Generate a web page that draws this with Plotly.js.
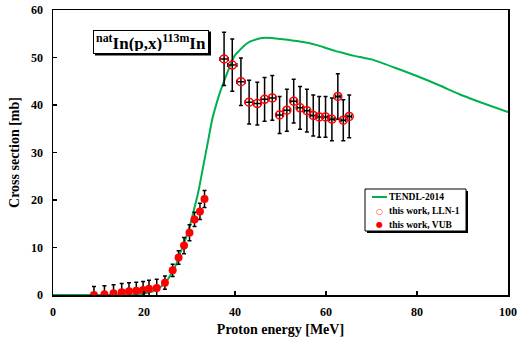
<!DOCTYPE html>
<html>
<head>
<meta charset="utf-8">
<script src="https://cdn.plot.ly/plotly-3.0.1.min.js"></script>
<style>html,body{margin:0;padding:0;background:#fff;}#chart{width:519px;height:345px;}</style>
</head>
<body>
<div id="chart"></div>
<script>
// TENDL-2014 model curve
const tendlE = [0, 10, 15, 18, 20, 22, 23, 24, 25, 26, 27, 28, 29, 30, 31, 32, 33, 34, 35, 36, 37, 38, 39, 40, 41, 42, 43, 44, 45, 46, 48, 50, 52, 54, 56, 58, 60, 62, 64, 66, 68, 70, 75, 80, 85, 90, 95, 100];
const tendlXS = [0, 0, 0.05, 0.15, 0.3, 0.8, 1.3, 2.0, 3.0, 4.5, 6.3, 8.9, 11.4, 14.3, 18.0, 22.0, 27.0, 32.0, 37.0, 40.5, 43.5, 46.0, 48.5, 50.5, 51.5, 52.5, 53.2, 53.6, 53.9, 54.1, 54.1, 53.9, 53.7, 53.4, 53.1, 52.6, 52.0, 51.4, 50.9, 50.4, 50.0, 49.6, 47.9, 46.1, 44.1, 42.0, 40.2, 38.5];

// this work, LLN-1
const llnE = [37.6, 39.4, 41.3, 43.1, 44.9, 46.5, 48.2, 49.8, 51.4, 52.9, 54.3, 55.8, 57.2, 58.5, 59.9, 61.3, 62.6, 63.8, 65.1];
const llnXS = [49.7, 48.4, 44.9, 40.6, 40.3, 41.2, 41.5, 37.9, 38.9, 40.8, 39.4, 38.8, 37.8, 37.5, 37.5, 37.0, 41.8, 36.8, 37.6];
const llnErr = [5.6, 5.5, 5.0, 4.6, 4.5, 4.6, 4.7, 3.9, 4.4, 4.6, 4.5, 4.5, 4.3, 4.3, 4.3, 4.5, 4.8, 4.3, 4.5];
const llnEErr = [0.9, 1.0, 0.9, 0.85, 0.8, 0.8, 0.75, 0.7, 0.7, 0.65, 0.65, 0.6, 0.6, 0.55, 0.55, 0.5, 0.5, 0.5, 0.5];

// this work, VUB
const vubE = [9.0, 11.3, 13.3, 15.1, 16.7, 18.3, 19.8, 21.1, 22.8, 24.6, 26.3, 27.6, 28.8, 30.0, 31.1, 32.3, 33.3];
const vubXS = [0.0, 0.15, 0.35, 0.6, 0.8, 0.9, 1.05, 1.3, 1.5, 2.6, 5.2, 7.9, 10.4, 13.1, 15.9, 17.6, 20.2];
const vubErr = [1.8, 1.8, 1.8, 1.8, 1.8, 1.8, 1.8, 1.8, 1.8, 1.4, 1.3, 1.4, 1.7, 1.7, 1.5, 1.7, 1.8];

const legendNames = ["TENDL-2014", "this work, LLN-1", "this work, VUB"];
const xTicks = [0, 20, 40, 60, 80, 100];
const yTicks = [0, 10, 20, 30, 40, 50, 60];

const GREEN = "#00B050";
const RED = "#FF0000";
const FONT = "Liberation Serif";

const traces = [
  {x: tendlE, y: tendlXS, type: "scatter", mode: "lines", name: legendNames[0],
   line: {color: GREEN, width: 2, shape: "spline", smoothing: 0.6}, hoverinfo: "skip"},
  {x: llnE, y: llnXS, type: "scatter", mode: "markers", name: legendNames[1],
   marker: {symbol: "circle-open", size: 8, color: RED, line: {width: 1.5, color: RED}},
   error_y: {type: "data", array: llnErr, visible: true, color: "#000", thickness: 1.5, width: 2},
   error_x: {type: "data", array: llnEErr, visible: true, color: "#000", thickness: 1.5, width: 2}},
  {x: vubE, y: vubXS, type: "scatter", mode: "markers", name: legendNames[2],
   marker: {symbol: "circle", size: 8, color: RED},
   error_y: {type: "data", array: vubErr, visible: true, color: "#000", thickness: 1.5, width: 2}}
];

// plot area geometry (px) for manual legend / title box placement
const L = 53, T = 10, W = 455, H = 285;
const px = v => (v - L) / W;
const py = v => (T + H - v) / H;

const titleText = "<b><sup>nat</sup>In(p,x)<sup>113m</sup>In</b>";
const bold = s => "<b>" + s + "</b>";

const shapes = [
  // title box shadow
  {type: "rect", xref: "paper", yref: "paper", x0: px(95), x1: px(211), y0: py(55.5), y1: py(31.5),
   fillcolor: "#000", line: {width: 0}, layer: "above"},
  // legend shadow and box
  {type: "rect", xref: "paper", yref: "paper", x0: px(367), x1: px(468), y0: py(233), y1: py(191),
   fillcolor: "#000", line: {width: 0}, layer: "above"},
  {type: "rect", xref: "paper", yref: "paper", x0: px(365), x1: px(466), y0: py(231), y1: py(189),
   fillcolor: "#fff", line: {width: 1, color: "#000"}, layer: "above"},
  // legend line sample
  {type: "line", xref: "paper", yref: "paper", x0: px(372), x1: px(387), y0: py(197), y1: py(197),
   line: {color: GREEN, width: 2}, layer: "above"}
];

const annotations = [
  // title box (fixed size so its shadow shape lines up)
  {xref: "paper", yref: "paper", x: px(150.5), y: py(41.5), xanchor: "center", yanchor: "middle",
   width: 110, height: 18, align: "center", valign: "middle",
   text: titleText, showarrow: false, bgcolor: "#fff", bordercolor: "#000", borderwidth: 1, borderpad: 2,
   font: {family: FONT, size: 17, color: "#000"}},
  // legend texts
  {xref: "paper", yref: "paper", x: px(387), y: py(197), xanchor: "left", yanchor: "middle",
   text: bold(legendNames[0]), showarrow: false, font: {family: FONT, size: 9.5, color: "#000"}},
  {xref: "paper", yref: "paper", x: px(387), y: py(211.3), xanchor: "left", yanchor: "middle",
   text: bold(legendNames[1]), showarrow: false, font: {family: FONT, size: 9.5, color: "#000"}},
  {xref: "paper", yref: "paper", x: px(387), y: py(224.7), xanchor: "left", yanchor: "middle",
   text: bold(legendNames[2]), showarrow: false, font: {family: FONT, size: 9.5, color: "#000"}},
  // legend symbols
  {xref: "paper", yref: "paper", x: px(379.5), y: py(211.3), xanchor: "center", yanchor: "middle",
   text: "○", showarrow: false, font: {family: "DejaVu Sans", size: 8, color: RED}},
  {xref: "paper", yref: "paper", x: px(379.5), y: py(224.7), xanchor: "center", yanchor: "middle",
   text: "●", showarrow: false, font: {family: "DejaVu Sans", size: 8, color: RED}}
];

const layout = {
  width: 519, height: 345,
  margin: {l: L, r: 519 - L - W, t: T, b: 345 - T - H},
  paper_bgcolor: "#fff", plot_bgcolor: "#fff",
  font: {family: FONT, size: 12, color: "#000", weight: "bold"},
  showlegend: false,
  xaxis: {range: [0, 100], tickvals: xTicks, ticktext: xTicks.map(v => bold(v)), ticks: "inside", ticklen: 4,
          tickwidth: 1.5, tickcolor: "#000", showline: true, linecolor: "#000", linewidth: 1.5, mirror: true,
          showgrid: false, zeroline: false, ticklabelstandoff: 5,
          tickfont: {family: FONT, size: 12},
          title: {text: bold("Proton energy [MeV]"), font: {family: FONT, size: 14}, standoff: 6}},
  yaxis: {range: [0, 60], tickvals: yTicks, ticktext: yTicks.map(v => bold(v)), ticks: "inside", ticklen: 4,
          tickwidth: 1.5, tickcolor: "#000", showline: true, linecolor: "#000", linewidth: 1.5, mirror: true,
          showgrid: false, zeroline: false, ticklabelstandoff: 6,
          tickfont: {family: FONT, size: 12},
          title: {text: bold("Cross section [mb]"), font: {family: FONT, size: 14}, standoff: 8}},
  shapes: shapes,
  annotations: annotations
};

Plotly.newPlot("chart", traces, layout, {displayModeBar: false, staticPlot: true});
</script>
</body>
</html>
